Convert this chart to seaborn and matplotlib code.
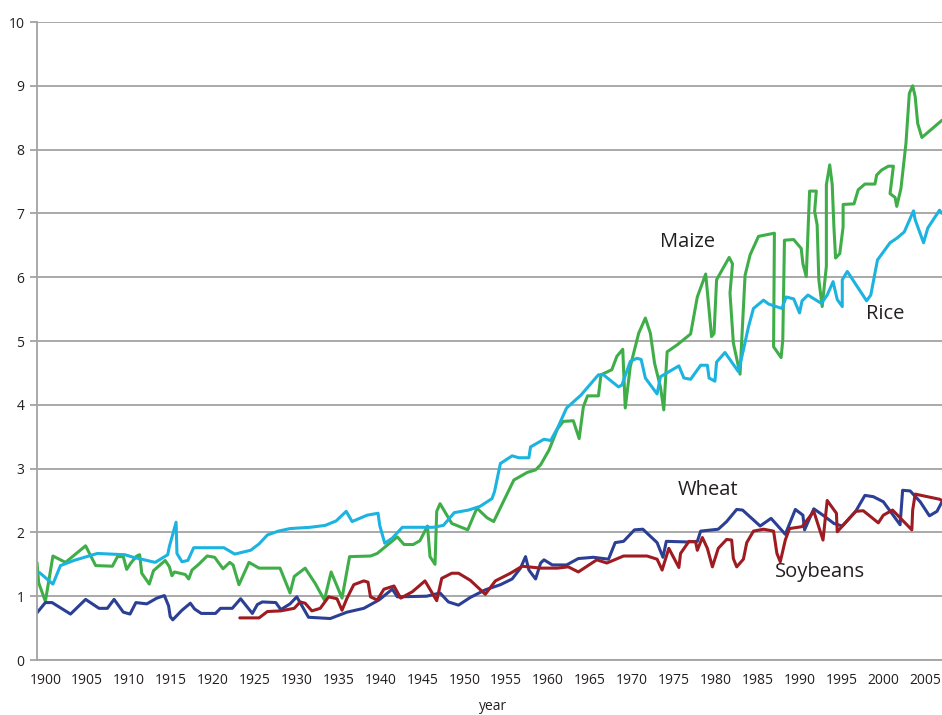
import matplotlib
matplotlib.use("Agg")
import matplotlib.pyplot as plt
import seaborn as sns
import pandas as pd

# ---- data ----
maize_years = [1899.0, 1899.2, 1900.0, 1900.9, 1902.4, 1903.6, 1904.8, 1906.0, 1908.0, 1908.6,
               1909.3, 1909.7, 1910.2, 1910.9, 1911.25, 1911.5, 1912.4, 1912.9, 1914.3, 1914.8,
               1915.1, 1915.4, 1916.7, 1917.1, 1917.5, 1918.3, 1919.3, 1920.2, 1921.2, 1922.0,
               1922.4, 1923.1, 1924.3, 1925.5, 1928.0, 1929.2, 1929.7, 1931.0, 1932.2, 1933.3,
               1934.1, 1935.4, 1936.3, 1938.8, 1939.6, 1942.0, 1942.8, 1943.9, 1944.7, 1945.6,
               1945.9, 1946.5, 1946.7, 1947.1, 1948.5, 1950.4, 1951.5, 1952.7, 1953.5, 1955.9,
               1957.5, 1958.5, 1959.1, 1960.1, 1961.1, 1961.8, 1963.0, 1963.7, 1964.2, 1964.7,
               1966.0, 1966.3, 1967.6, 1968.2, 1968.9, 1969.2, 1969.8, 1970.8, 1971.6, 1972.2,
               1972.7, 1973.4, 1973.8, 1974.2, 1975.4, 1977.0, 1977.8, 1978.8, 1979.5, 1979.8,
               1980.1, 1981.3, 1981.6, 1982.0, 1981.7, 1982.1, 1982.9, 1983.1, 1983.5, 1984.1,
               1985.1, 1987.0, 1986.9, 1987.8, 1988.0, 1988.2, 1989.3, 1990.2, 1990.4, 1990.8,
               1991.2, 1992.0, 1991.8, 1992.1, 1992.3, 1992.7, 1993.2, 1993.2, 1993.6, 1993.9,
               1994.1, 1994.3, 1994.8, 1995.2, 1995.2, 1996.5, 1997.0, 1997.8, 1999.0, 1999.2,
               1999.8, 2000.6, 2001.2, 2000.8, 2001.4, 2001.6, 2002.1, 2002.7, 2003.1, 2003.5,
               2003.8, 2004.1, 2004.6, 2007.0]
maize_vals = [1.53, 1.21, 0.92, 1.63, 1.53, 1.66, 1.79, 1.48, 1.47, 1.62,
              1.62, 1.42, 1.52, 1.63, 1.65, 1.36, 1.19, 1.40, 1.56, 1.46,
              1.32, 1.38, 1.34, 1.27, 1.41, 1.50, 1.63, 1.61, 1.43, 1.53,
              1.49, 1.18, 1.53, 1.44, 1.44, 1.05, 1.31, 1.44, 1.20, 0.94,
              1.38, 0.97, 1.62, 1.63, 1.67, 1.93, 1.81, 1.81, 1.87, 2.10,
              1.62, 1.50, 2.33, 2.45, 2.14, 2.04, 2.38, 2.23, 2.17, 2.82,
              2.94, 2.98, 3.06, 3.29, 3.62, 3.74, 3.75, 3.47, 3.97, 4.14,
              4.14, 4.47, 4.55, 4.76, 4.87, 3.95, 4.60, 5.12, 5.36, 5.12,
              4.65, 4.28, 3.92, 4.83, 4.94, 5.11, 5.69, 6.05, 5.07, 5.12,
              5.96, 6.24, 6.31, 6.21, 5.75, 4.97, 4.48, 5.01, 6.03, 6.35,
              6.64, 6.69, 4.91, 4.74, 5.02, 6.58, 6.59, 6.45, 6.21, 6.01,
              7.35, 7.35, 7.03, 6.82, 5.96, 5.54, 6.17, 7.45, 7.76, 7.45,
              6.79, 6.30, 6.37, 6.79, 7.14, 7.15, 7.37, 7.46, 7.46, 7.60,
              7.68, 7.74, 7.74, 7.31, 7.25, 7.11, 7.39, 8.10, 8.88, 9.00,
              8.83, 8.41, 8.19, 8.46]

rice_years = [1899.3, 1900.9, 1901.8, 1903.4, 1906.2, 1909.5, 1910.5, 1913.1, 1914.6, 1914.8,
              1915.6, 1915.7, 1916.3, 1917.0, 1917.7, 1921.3, 1922.6, 1924.5, 1925.5, 1926.5,
              1927.8, 1929.2, 1931.6, 1933.4, 1934.7, 1935.9, 1936.6, 1938.4, 1939.7, 1939.9,
              1940.5, 1941.4, 1942.6, 1946.3, 1947.5, 1948.8, 1950.5, 1951.9, 1953.3, 1953.6,
              1954.3, 1955.7, 1956.5, 1957.7, 1957.9, 1959.5, 1960.3, 1961.1, 1962.2, 1963.9,
              1966.0, 1966.6, 1968.4, 1968.8, 1969.8, 1970.6, 1971.1, 1971.6, 1973.0, 1973.4,
              1975.6, 1976.2, 1977.0, 1978.2, 1979.0, 1979.2, 1979.9, 1980.1, 1981.1, 1982.7,
              1983.3, 1983.9, 1984.5, 1985.7, 1986.3, 1987.9, 1988.4, 1989.3, 1990.0, 1990.3,
              1991.0, 1992.6, 1993.3, 1994.0, 1994.5, 1995.1, 1995.1, 1995.7, 1998.0, 1998.5,
              1999.3, 2000.8, 2001.6, 2002.5, 2003.6, 2003.8, 2004.8, 2005.3, 2006.7, 2007.0]
rice_vals = [1.37, 1.19, 1.48, 1.56, 1.67, 1.65, 1.61, 1.53, 1.65, 1.78,
             2.16, 1.67, 1.54, 1.56, 1.76, 1.76, 1.66, 1.72, 1.82, 1.96,
             2.02, 2.06, 2.08, 2.11, 2.18, 2.33, 2.17, 2.27, 2.30, 2.11,
             1.83, 1.91, 2.08, 2.08, 2.11, 2.31, 2.35, 2.41, 2.53, 2.64,
             3.08, 3.20, 3.17, 3.17, 3.34, 3.46, 3.44, 3.63, 3.95, 4.15,
             4.47, 4.47, 4.28, 4.31, 4.68, 4.73, 4.71, 4.42, 4.17, 4.44,
             4.61, 4.42, 4.40, 4.62, 4.62, 4.42, 4.37, 4.67, 4.82, 4.52,
             4.86, 5.22, 5.51, 5.64, 5.58, 5.51, 5.69, 5.66, 5.44, 5.63,
             5.72, 5.59, 5.72, 5.93, 5.65, 5.54, 5.96, 6.09, 5.63, 5.72,
             6.27, 6.54, 6.61, 6.71, 7.04, 6.90, 6.54, 6.77, 7.05, 7.00]

wheat_years = [1899.0, 1900.0, 1900.8, 1903.0, 1904.8, 1906.4, 1907.4, 1908.2, 1909.3, 1910.1,
               1910.8, 1912.1, 1913.3, 1914.2, 1914.7, 1914.9, 1915.2, 1916.3, 1917.3, 1917.8,
               1918.6, 1920.3, 1920.9, 1922.3, 1923.3, 1924.7, 1925.3, 1925.9, 1927.5, 1928.1,
               1929.2, 1930.0, 1931.4, 1934.0, 1936.0, 1938.0, 1939.8, 1941.4, 1942.0, 1945.5,
               1947.1, 1948.1, 1949.3, 1950.7, 1952.5, 1954.3, 1955.7, 1956.7, 1957.3, 1957.7,
               1958.5, 1959.1, 1959.5, 1960.5, 1962.2, 1963.6, 1965.4, 1967.2, 1968.0, 1969.0,
               1970.3, 1971.3, 1973.0, 1973.7, 1974.1, 1976.6, 1977.8, 1978.2, 1980.3, 1981.3,
               1982.5, 1983.2, 1985.3, 1986.6, 1988.3, 1989.5, 1990.4, 1990.6, 1991.7, 1992.9,
               1994.1, 1995.1, 1996.7, 1997.8, 1998.8, 2000.0, 2002.0, 2002.3, 2003.2, 2004.4,
               2005.5, 2006.4, 2007.0]
wheat_vals = [0.74, 0.90, 0.90, 0.72, 0.95, 0.81, 0.81, 0.95, 0.75, 0.72,
              0.90, 0.88, 0.97, 1.01, 0.85, 0.68, 0.63, 0.78, 0.89, 0.80,
              0.73, 0.73, 0.81, 0.81, 0.96, 0.73, 0.87, 0.91, 0.90, 0.79,
              0.88, 0.99, 0.67, 0.65, 0.75, 0.81, 0.94, 1.11, 0.99, 1.00,
              1.05, 0.91, 0.86, 0.98, 1.10, 1.18, 1.27, 1.44, 1.62, 1.41,
              1.27, 1.52, 1.57, 1.49, 1.49, 1.59, 1.61, 1.58, 1.84, 1.86,
              2.04, 2.05, 1.84, 1.61, 1.86, 1.85, 1.86, 2.02, 2.05, 2.17,
              2.36, 2.35, 2.10, 2.22, 1.97, 2.36, 2.27, 2.04, 2.37, 2.26,
              2.14, 2.10, 2.33, 2.58, 2.56, 2.48, 2.12, 2.66, 2.65, 2.48,
              2.26, 2.33, 2.48]

soy_years = [1923.2, 1925.5, 1926.5, 1928.1, 1929.7, 1930.4, 1931.0, 1931.8, 1932.8, 1933.8,
             1934.8, 1935.4, 1936.0, 1936.8, 1938.0, 1938.5, 1938.8, 1939.6, 1940.4, 1941.6,
             1942.4, 1943.8, 1945.3, 1946.7, 1947.3, 1948.5, 1949.3, 1950.7, 1952.5, 1953.7,
             1955.5, 1956.9, 1959.1, 1961.1, 1962.4, 1963.6, 1965.8, 1967.0, 1969.0, 1971.8,
             1973.0, 1973.6, 1974.4, 1975.6, 1975.8, 1976.8, 1977.6, 1977.8, 1978.4, 1979.0,
             1979.6, 1980.3, 1981.3, 1981.9, 1982.1, 1982.5, 1983.3, 1983.7, 1984.5, 1985.7,
             1986.9, 1987.3, 1987.7, 1988.3, 1988.8, 1990.3, 1991.7, 1992.8, 1993.3, 1994.4,
             1994.5, 1996.7, 1997.6, 1999.4, 2000.0, 2001.1, 2003.4, 2003.5, 2003.8, 2006.7,
             2007.0]
soy_vals = [0.66, 0.66, 0.76, 0.77, 0.81, 0.91, 0.89, 0.77, 0.81, 0.99,
            0.96, 0.78, 0.97, 1.18, 1.24, 1.22, 0.99, 0.94, 1.11, 1.16,
            0.97, 1.07, 1.24, 0.93, 1.28, 1.36, 1.36, 1.25, 1.03, 1.24,
            1.36, 1.47, 1.44, 1.44, 1.46, 1.38, 1.57, 1.52, 1.63, 1.63,
            1.58, 1.41, 1.75, 1.45, 1.67, 1.86, 1.85, 1.72, 1.92, 1.75,
            1.46, 1.75, 1.89, 1.88, 1.59, 1.46, 1.58, 1.84, 2.02, 2.05,
            2.02, 1.67, 1.54, 1.88, 2.06, 2.09, 2.33, 1.88, 2.50, 2.30,
            2.01, 2.33, 2.34, 2.15, 2.27, 2.35, 2.04, 2.35, 2.60, 2.52,
            2.50]

crops = ["Maize", "Rice", "Wheat", "Soybeans"]
colors = {"Maize": "#3fae49", "Rice": "#1cb3e0", "Wheat": "#2b3f95", "Soybeans": "#9e1b22"}
x_ticks = list(range(1900, 2006, 5))
y_ticks = list(range(0, 11))

# labels placed in the chart (data coordinates)
label_pos = {"Maize": (1976.6, 6.55), "Rice": (2000.2, 5.42),
             "Wheat": (1979.1, 2.66), "Soybeans": (1992.5, 1.38)}

# ---- build long table ----
frames = []
for name, xs, ys in [("Maize", maize_years, maize_vals), ("Rice", rice_years, rice_vals),
                     ("Wheat", wheat_years, wheat_vals), ("Soybeans", soy_years, soy_vals)]:
    frames.append(pd.DataFrame({"year": xs, "value": ys, "crop": name}))
df = pd.concat(frames, ignore_index=True)

sns.set_theme(style="white")
plt.rcParams["font.family"] = ["Open Sans", "DejaVu Sans"]

fig = plt.figure(figsize=(9.42, 7.15), dpi=100)
ax = fig.add_axes([37 / 942, 1 - 660 / 715, 1 - 37 / 942, (660 - 22) / 715])

sns.lineplot(data=df, x="year", y="value", hue="crop", hue_order=crops,
             palette=colors, sort=False, estimator=None, units="crop",
             linewidth=2.2, legend=False, ax=ax)

ax.set_xlim(1899.0, 2007.0)
ax.set_ylim(0, 10)
ax.set_xticks(x_ticks)
ax.set_xticklabels([str(t) for t in x_ticks])
ax.set_yticks(y_ticks)
ax.set_yticklabels([str(t) for t in y_ticks])

grid_c = "#a3a3a3"
ax.yaxis.grid(True, color=grid_c, linewidth=1.3)
ax.xaxis.grid(False)
ax.set_axisbelow(True)
for s in ["top", "right"]:
    ax.spines[s].set_visible(False)
for s in ["left", "bottom"]:
    ax.spines[s].set_color(grid_c)
    ax.spines[s].set_linewidth(1.3)

txt_c = "#231f20"
ax.tick_params(axis="y", length=5, width=1.3, color=grid_c, pad=4,
               labelsize=10, labelcolor=txt_c, left=True)
ax.tick_params(axis="x", length=0, pad=9, labelsize=10, labelcolor=txt_c)
ax.set_xlabel("")
ax.set_ylabel("")

for name in crops:
    x, y = label_pos[name]
    ax.text(x, y, name, fontsize=14.5, color=txt_c, ha="center", va="center")

fig.text(493 / 942, 0.001, "year", fontsize=10, color=txt_c, ha="center", va="bottom")

fig.savefig("out.png", dpi=100)
